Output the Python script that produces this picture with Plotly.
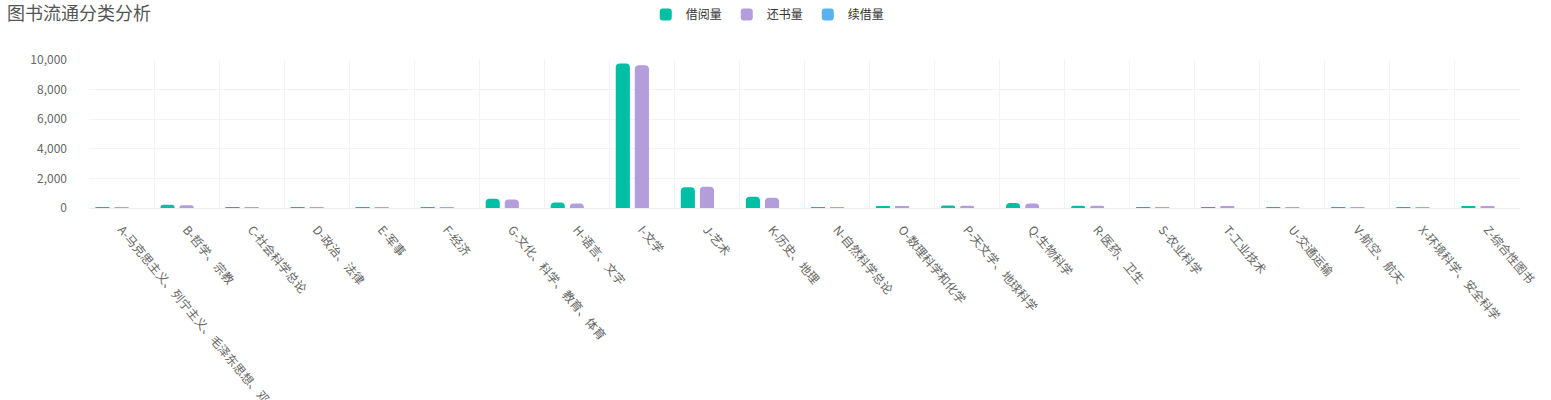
import plotly.graph_objects as go

categories = [
    "A-马克思主义、列宁主义、毛泽东思想、邓小平理论",
    "B-哲学、宗教",
    "C-社会科学总论",
    "D-政治、法律",
    "E-军事",
    "F-经济",
    "G-文化、科学、教育、体育",
    "H-语言、文字",
    "I-文学",
    "J-艺术",
    "K-历史、地理",
    "N-自然科学总论",
    "O-数理科学和化学",
    "P-天文学、地球科学",
    "Q-生物科学",
    "R-医药、卫生",
    "S-农业科学",
    "T-工业技术",
    "U-交通运输",
    "V-航空、航天",
    "X-环境科学、安全科学",
    "Z-综合性图书",
]

# values (approximate)
borrow = [20, 220, 40, 50, 60, 50, 620, 370, 9770, 1400, 760,
          60, 100, 170, 330, 160, 30, 50, 40, 30, 40, 130]
returned = [20, 190, 40, 40, 60, 40, 580, 300, 9640, 1440, 700,
            50, 90, 160, 300, 150, 20, 90, 40, 30, 40, 120]
renew = [0] * len(categories)

series_names = ["借阅量", "还书量", "续借量"]
colors = ["#00BFA5", "#B39DDB", "#5AB1EF"]

font_family = "Noto Sans CJK SC, Noto Sans, sans-serif"

fig = go.Figure()
for name, vals, c in zip(series_names, [borrow, returned, renew], colors):
    fig.add_trace(go.Bar(
        name=name,
        x=categories,
        y=vals,
        marker=dict(color=c, cornerradius=4, line=dict(width=0)),
    ))

W, H = 1551, 400
ml, mr, mt, mb = 89, 31, 60, 192
pw, ph = W - ml - mr, H - mt - mb

fig.update_layout(
    width=W,
    height=H,
    barmode="group",
    bargap=0.12,
    bargroupgap=0.26,
    paper_bgcolor="white",
    plot_bgcolor="white",
    font=dict(family=font_family, color="#666", size=12),
    showlegend=True,
    legend=dict(
        orientation="h",
        xref="container", x=0.495, xanchor="center",
        yref="container", y=1.0, yanchor="top",
        font=dict(size=12, color="#333"),
        itemwidth=30,
        traceorder="normal",
        bgcolor="rgba(0,0,0,0)",
    ),
    margin=dict(l=ml, r=mr, t=mt, b=mb, autoexpand=False),
)

# title as annotation so it can sit in the page corner
fig.add_annotation(
    text="图书流通分类分析",
    xref="paper", yref="paper",
    x=(5 - ml) / pw, xanchor="left",
    y=1 + (mt - 12) / ph, yanchor="middle",
    showarrow=False,
    font=dict(size=18, color="#555", family=font_family),
)

fig.update_xaxes(
    showgrid=True,
    gridcolor="#f3f3f3",
    tickson="boundaries",
    ticks="",
    tickangle=50,
    tickfont=dict(size=12, color="#666"),
    ticklabelstandoff=9,
    showline=True,
    linecolor="#eeeeee",
    automargin=False,
)
fig.update_yaxes(
    range=[0, 10000],
    dtick=2000,
    tickformat=",",
    showgrid=True,
    gridcolor="#f3f3f3",
    zeroline=False,
    ticks="",
    tickfont=dict(size=12, color="#666"),
    ticklabelstandoff=21,
    automargin=False,
)

# drop the default page margin so the figure fills the window
fig.write_html("out.html", config={"displayModeBar": False},
               post_script="document.body.style.margin='0px';")
